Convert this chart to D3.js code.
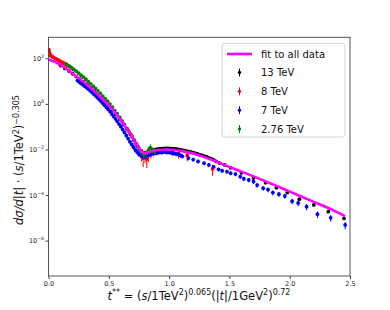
<!DOCTYPE html>
<html>
<head>
<meta charset="utf-8">
<script src="https://cdn.jsdelivr.net/npm/d3@7"></script>
<style>
  body { margin: 0; background: #fff; }
  svg { font-family: "DejaVu Sans", sans-serif; }
</style>
</head>
<body>
<div id="chart"></div>
<script>
// fit to all data : t**, dsigma/dt scaled
const fitT = [0.00, 0.05, 0.10, 0.15, 0.20, 0.25, 0.30, 0.35, 0.40, 0.45, 0.50, 0.55, 0.60, 0.65, 0.70, 0.74, 0.77, 0.79, 0.81, 0.84, 0.88, 0.93, 0.98, 1.03, 1.10, 1.20, 1.30, 1.40, 1.50, 1.60, 1.70, 1.80, 1.90, 2.00, 2.10, 2.20, 2.30, 2.40, 2.46];
const fitY = [89, 71, 50, 34, 21, 13.5, 8.5, 5.0, 2.8, 1.55, 0.83, 0.42, 0.19, 0.079, 0.032, 0.014, 0.0083, 0.0069, 0.0071, 0.0079, 0.0091, 0.0098, 0.0100, 0.0098, 0.0087, 0.0066, 0.0045, 0.0028, 0.0017, 0.00107, 6.6e-4, 4.0e-4, 2.4e-4, 1.41e-4, 8.5e-5, 5.0e-5, 3.0e-5, 1.7e-5, 1.2e-5];

// [t**, value, relative error]
const data13 = [
  [0.10, 48, 0.04], [0.137, 36, 0.04], [0.17, 27.5, 0.04], [0.20, 21, 0.04], [0.23, 15.8, 0.04],
  [0.26, 12.0, 0.04], [0.29, 9.1, 0.04], [0.32, 6.9, 0.04], [0.35, 5.0, 0.04], [0.38, 3.5, 0.04],
  [0.41, 2.5, 0.04], [0.44, 1.74, 0.04], [0.47, 1.17, 0.04], [0.50, 0.79, 0.04], [0.53, 0.52, 0.05],
  [0.56, 0.35, 0.05], [0.59, 0.22, 0.05], [0.62, 0.132, 0.05], [0.65, 0.079, 0.05], [0.68, 0.046, 0.06],
  [0.71, 0.025, 0.06], [0.74, 0.0138, 0.07], [0.77, 0.0087, 0.08], [0.80, 0.0072, 0.08], [0.83, 0.0079, 0.08],
  [0.86, 0.0091, 0.07], [0.89, 0.0100, 0.06], [0.92, 0.0107, 0.06], [0.95, 0.0110, 0.06], [0.98, 0.0112, 0.06],
  [1.01, 0.0110, 0.06], [1.04, 0.0107, 0.06], [1.07, 0.0102, 0.06], [1.10, 0.0095, 0.06], [1.13, 0.0089, 0.06],
  [1.16, 0.0081, 0.06], [1.19, 0.0074, 0.06], [1.22, 0.0068, 0.06], [1.25, 0.0060, 0.06], [1.28, 0.0054, 0.06],
  [1.31, 0.0047, 0.07], [1.34, 0.0041, 0.07], [1.37, 0.0035, 0.07], [1.42, 0.0025, 0.08], [1.51, 0.00158, 0.08],
  [1.60, 9.5e-4, 0.08], [1.70, 5.6e-4, 0.09], [1.80, 3.5e-4, 0.09], [1.89, 2.1e-4, 0.1], [1.98, 1.29e-4, 0.1],
  [2.08, 6.6e-5, 0.1], [2.20, 3.7e-5, 0.12], [2.32, 1.86e-5, 0.12], [2.45, 9.5e-6, 0.14],
  [0.875, 0.0096, 0.06], [0.905, 0.0104, 0.06], [0.935, 0.0109, 0.06], [0.965, 0.0111, 0.06], [0.995, 0.0111, 0.06],
  [1.025, 0.0109, 0.06], [1.055, 0.0105, 0.06], [1.085, 0.0099, 0.06], [1.115, 0.0092, 0.06], [1.145, 0.0085, 0.06],
  [1.175, 0.0078, 0.06], [1.205, 0.0071, 0.06], [1.235, 0.0064, 0.06], [1.265, 0.0057, 0.06], [1.295, 0.0050, 0.07],
  [1.325, 0.0044, 0.07], [1.355, 0.0038, 0.07], [1.39, 0.0030, 0.08], [1.46, 0.0021, 0.08]
];
const data8 = [
  [0.003, 240, 0.08], [0.006, 190, 0.08], [0.010, 158, 0.07], [0.015, 138, 0.07], [0.020, 129, 0.07],
  [0.030, 117, 0.07], [0.040, 110, 0.07], [0.050, 102, 0.07], [0.060, 95, 0.07], [0.070, 89, 0.07],
  [0.080, 83, 0.07], [0.090, 78, 0.07], [0.100, 72, 0.07], [0.110, 68, 0.07], [0.120, 63, 0.07],
  [0.130, 59, 0.07], [0.140, 55, 0.07], [0.150, 51, 0.07], [0.160, 48, 0.07], [0.175, 43, 0.07],
  [0.190, 38, 0.07], [0.205, 33, 0.07],
  [0.66, 0.071, 0.2], [0.69, 0.038, 0.25], [0.72, 0.019, 0.3], [0.75, 0.0095, 0.4], [0.77, 0.0060, 0.5],
  [0.785, 0.0042, 0.6], [0.80, 0.0050, 0.5], [0.815, 0.0038, 0.6], [0.83, 0.0056, 0.5], [0.85, 0.0066, 0.4],
  [0.87, 0.0076, 0.35], [0.90, 0.0079, 0.3], [0.94, 0.0083, 0.3], [0.98, 0.0087, 0.3], [1.03, 0.0079, 0.35],
  [1.08, 0.0066, 0.4], [1.15, 0.0055, 0.45], [1.36, 0.0014, 0.5]
];
const data7 = [
  [0.24, 10.5, 0.12], [0.27, 7.9, 0.12], [0.30, 6.0, 0.12], [0.33, 4.5, 0.12], [0.36, 3.2, 0.12],
  [0.39, 2.3, 0.12], [0.42, 1.58, 0.12], [0.45, 1.07, 0.12], [0.48, 0.71, 0.12], [0.51, 0.46, 0.14],
  [0.54, 0.28, 0.14], [0.57, 0.17, 0.15], [0.60, 0.100, 0.15], [0.63, 0.056, 0.16], [0.66, 0.030, 0.18],
  [0.69, 0.0166, 0.2], [0.72, 0.0095, 0.22], [0.75, 0.0063, 0.25], [0.78, 0.0050, 0.25], [0.81, 0.0052, 0.25],
  [0.84, 0.0060, 0.22], [0.87, 0.0068, 0.2], [0.90, 0.0072, 0.2], [0.93, 0.0076, 0.2], [0.96, 0.0078, 0.2],
  [0.99, 0.0076, 0.2], [1.02, 0.0072, 0.2], [1.05, 0.0066, 0.2], [1.08, 0.0060, 0.2], [1.11, 0.0050, 0.2],
  [1.16, 0.0042, 0.2], [1.20, 0.0036, 0.2], [1.24, 0.0030, 0.2], [1.29, 0.0025, 0.2], [1.33, 0.0021, 0.2],
  [1.37, 0.00174, 0.2], [1.41, 0.00135, 0.2], [1.44, 0.00117, 0.2], [1.48, 0.00107, 0.2], [1.51, 9.1e-4, 0.2],
  [1.55, 8.3e-4, 0.2], [1.59, 6.5e-4, 0.22], [1.62, 5.2e-4, 0.22], [1.66, 4.6e-4, 0.22], [1.70, 3.9e-4, 0.22],
  [1.73, 2.75e-4, 0.24], [1.78, 2.0e-4, 0.24], [1.82, 1.74e-4, 0.24], [1.86, 1.29e-4, 0.25], [1.91, 1.10e-4, 0.25],
  [1.96, 9.1e-5, 0.25], [2.02, 5.4e-5, 0.28], [2.07, 4.5e-5, 0.28], [2.14, 3.1e-5, 0.3], [2.23, 1.45e-5, 0.32],
  [2.34, 1.0e-5, 0.32], [2.46, 4.9e-6, 0.35],
  [0.255, 9.1, 0.12], [0.285, 6.9, 0.12], [0.315, 5.2, 0.12], [0.345, 3.8, 0.12], [0.375, 2.7, 0.12],
  [0.405, 1.9, 0.12], [0.435, 1.30, 0.12], [0.465, 0.87, 0.12], [0.495, 0.57, 0.13], [0.525, 0.36, 0.14],
  [0.555, 0.22, 0.14], [0.585, 0.13, 0.15], [0.615, 0.075, 0.15], [0.645, 0.041, 0.17], [0.675, 0.022, 0.19],
  [0.705, 0.0125, 0.21], [0.735, 0.0077, 0.23], [0.765, 0.0056, 0.25], [0.795, 0.0050, 0.25], [0.825, 0.0056, 0.24],
  [0.855, 0.0064, 0.21], [0.885, 0.0070, 0.2], [0.915, 0.0074, 0.2], [0.945, 0.0077, 0.2], [0.975, 0.0077, 0.2],
  [1.005, 0.0074, 0.2], [1.035, 0.0069, 0.2], [1.065, 0.0063, 0.2], [1.095, 0.0055, 0.2]
];
const data276 = [
  [0.15, 55, 0.08], [0.17, 46, 0.08], [0.19, 39, 0.08], [0.21, 32, 0.08], [0.23, 27, 0.08],
  [0.25, 22, 0.08], [0.27, 18, 0.08], [0.29, 14.8, 0.08], [0.31, 12.0, 0.08], [0.33, 9.5, 0.08],
  [0.35, 7.6, 0.08], [0.37, 6.0, 0.08], [0.39, 4.8, 0.08], [0.41, 3.7, 0.08], [0.43, 2.9, 0.08],
  [0.45, 2.2, 0.08], [0.47, 1.7, 0.08], [0.49, 1.32, 0.08], [0.51, 0.98, 0.08], [0.53, 0.71, 0.08],
  [0.55, 0.51, 0.09], [0.57, 0.37, 0.09], [0.59, 0.26, 0.1], [0.61, 0.18, 0.1], [0.63, 0.123, 0.1],
  [0.65, 0.083, 0.12], [0.67, 0.058, 0.12], [0.69, 0.040, 0.14], [0.71, 0.026, 0.15], [0.73, 0.0174, 0.2],
  [0.75, 0.0112, 0.25], [0.77, 0.0079, 0.3], [0.79, 0.0063, 0.35], [0.81, 0.0069, 0.35], [0.83, 0.0095, 0.35],
  [0.845, 0.0120, 0.4], [0.86, 0.0095, 0.35], [0.88, 0.0083, 0.35]
];

const series = [
  { name: "13 TeV", color: "black", pts: data13 },
  { name: "8 TeV", color: "red", pts: data8 },
  { name: "7 TeV", color: "blue", pts: data7 },
  { name: "2.76 TeV", color: "green", pts: data276 }
];
const xTicks = [0.0, 0.5, 1.0, 1.5, 2.0, 2.5];
const yTickExp = [2, 0, -2, -4, -6];

const width = 390, height = 310;
const margin = { left: 48.5, right: 350, top: 37.3, bottom: 276 };

const svg = d3.select("#chart").append("svg")
  .attr("width", width)
  .attr("height", height);

const x = d3.scaleLinear().domain([0, 2.5]).range([margin.left, margin.right]);
const y = d3.scaleLog().domain([2.82e-8, 832]).range([margin.bottom, margin.top]);

const plot = svg.append("g");
plot.append("clipPath").attr("id", "clip")
  .append("rect")
  .attr("x", margin.left).attr("y", margin.top)
  .attr("width", margin.right - margin.left).attr("height", margin.bottom - margin.top);

const marks = plot.append("g").attr("clip-path", "url(#clip)");

// data points with error bars
series.forEach(s => {
  const g = marks.append("g");
  g.selectAll("line")
    .data(s.pts)
    .join("line")
    .attr("x1", d => x(d[0])).attr("x2", d => x(d[0]))
    .attr("y1", d => y(d[1] * (1 + d[2])))
    .attr("y2", d => y(d[1] * Math.max(1 - d[2], 0.05)))
    .attr("stroke", s.color)
    .attr("stroke-width", 1);
  g.selectAll("circle")
    .data(s.pts)
    .join("circle")
    .attr("cx", d => x(d[0]))
    .attr("cy", d => y(d[1]))
    .attr("r", 1.9)
    .attr("fill", s.color);
});

// fit line
const line = d3.line()
  .x(d => x(d[0]))
  .y(d => y(d[1]))
  .curve(d3.curveMonotoneX);
marks.append("path")
  .datum(fitT.map((t, i) => [t, fitY[i]]))
  .attr("d", line)
  .attr("fill", "none")
  .attr("stroke", "magenta")
  .attr("stroke-width", 2.6);

// frame
svg.append("rect")
  .attr("x", margin.left).attr("y", margin.top)
  .attr("width", margin.right - margin.left).attr("height", margin.bottom - margin.top)
  .attr("fill", "none")
  .attr("stroke", "#444")
  .attr("stroke-width", 0.9);

// x axis
const xAxis = svg.append("g").attr("transform", `translate(0,${margin.bottom})`)
  .call(d3.axisBottom(x).tickValues(xTicks).tickFormat(d3.format(".1f")).tickSize(3).tickPadding(2));
xAxis.select(".domain").remove();
xAxis.selectAll("line").attr("stroke", "#444");
xAxis.selectAll("text").attr("font-size", 6.5).attr("fill", "#222")
  .attr("font-family", "DejaVu Sans");

// y axis, 10^n labels
const yAxis = svg.append("g").attr("transform", `translate(${margin.left},0)`)
  .call(d3.axisLeft(y).tickValues(yTickExp.map(e => Math.pow(10, e))).tickSize(3).tickFormat(""));
yAxis.select(".domain").remove();
yAxis.selectAll("line").attr("stroke", "#444");
yAxis.selectAll(".tick").append("text")
  .attr("x", -4.5).attr("dy", "0.32em")
  .attr("text-anchor", "end")
  .attr("fill", "#222")
  .attr("font-size", 6.5)
  .attr("font-family", "DejaVu Sans")
  .each(function (d) {
    const e = Math.round(Math.log10(d));
    const t = d3.select(this);
    t.append("tspan").text("10");
    t.append("tspan").attr("dy", -3).attr("font-size", 4.6)
      .text(e < 0 ? "\u2212" + (-e) : String(e));
  });

// axis titles
const xl = svg.append("text")
  .attr("x", 199).attr("y", 299.5)
  .attr("text-anchor", "middle")
  .attr("font-size", 11.5)
  .attr("fill", "#111");
const sup = 8;
xl.append("tspan").attr("font-style", "italic").text("t");
xl.append("tspan").attr("dy", -4.5).attr("font-size", sup).text("**");
xl.append("tspan").attr("dy", 4.5).text(" = (");
xl.append("tspan").attr("font-style", "italic").text("s");
xl.append("tspan").text("/1TeV");
xl.append("tspan").attr("dy", -4.5).attr("font-size", sup).text("2");
xl.append("tspan").attr("dy", 4.5).text(")");
xl.append("tspan").attr("dy", -4.5).attr("font-size", sup).text("0.065");
xl.append("tspan").attr("dy", 4.5).text("(|");
xl.append("tspan").attr("font-style", "italic").text("t");
xl.append("tspan").text("|/1GeV");
xl.append("tspan").attr("dy", -4.5).attr("font-size", sup).text("2");
xl.append("tspan").attr("dy", 4.5).text(")");
xl.append("tspan").attr("dy", -4.5).attr("font-size", sup).text("0.72");

const yl = svg.append("text")
  .attr("transform", "translate(23,160) rotate(-90)")
  .attr("text-anchor", "middle")
  .attr("font-size", 11.5)
  .attr("fill", "#111");
yl.append("tspan").attr("font-style", "italic").text("d\u03c3/d|t|");
yl.append("tspan").text(" \u00b7 (");
yl.append("tspan").attr("font-style", "italic").text("s");
yl.append("tspan").text("/1TeV");
yl.append("tspan").attr("dy", -4.5).attr("font-size", sup).text("2");
yl.append("tspan").attr("dy", 4.5).text(")");
yl.append("tspan").attr("dy", -4.5).attr("font-size", sup).text("\u22120.305");

// legend
const legend = svg.append("g");
legend.append("rect")
  .attr("x", 222).attr("y", 43.5)
  .attr("width", 123).attr("height", 93.5)
  .attr("rx", 2.5)
  .attr("fill", "white").attr("fill-opacity", 0.85)
  .attr("stroke", "#ccc").attr("stroke-width", 0.8);
legend.append("line")
  .attr("x1", 227).attr("x2", 252).attr("y1", 54).attr("y2", 54)
  .attr("stroke", "magenta").attr("stroke-width", 2.6);
legend.append("text")
  .attr("x", 261).attr("y", 54).attr("dy", "0.35em")
  .attr("font-size", 10).attr("fill", "#111")
  .text("fit to all data");
const ly = d3.scaleLinear().domain([0, 3]).range([72.5, 129]);
const items = legend.selectAll(".item")
  .data(series)
  .join("g")
  .attr("class", "item")
  .attr("transform", (d, i) => `translate(239.5,${ly(i)})`);
items.append("line")
  .attr("y1", -4).attr("y2", 4)
  .attr("stroke", d => d.color).attr("stroke-width", 1);
items.append("circle").attr("r", 1.7).attr("fill", d => d.color);
items.append("text")
  .attr("x", 21.5).attr("dy", "0.35em")
  .attr("font-size", 10).attr("fill", "#111")
  .text(d => d.name);
</script>
</body>
</html>
